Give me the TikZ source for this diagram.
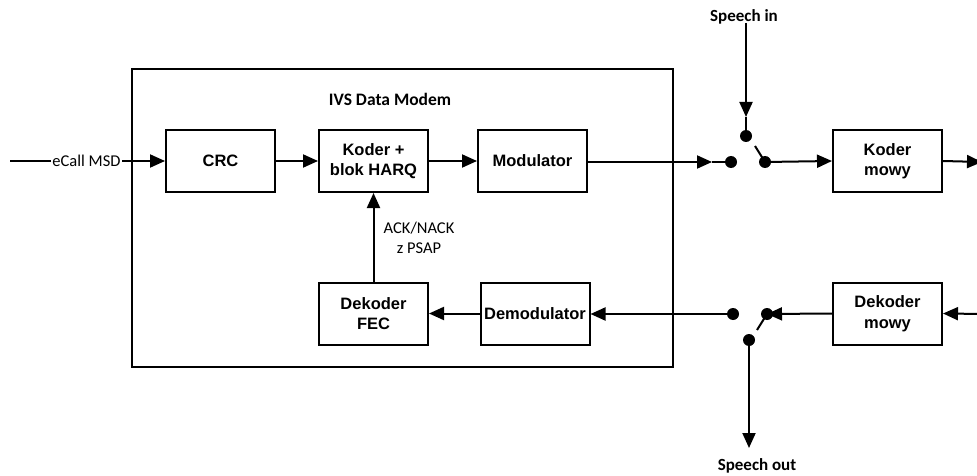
\documentclass[tikz,border=0pt]{standalone}
\usepackage{fontspec}
\setmainfont{Liberation Sans}
\newfontfamily\calibri{Carlito}
\usetikzlibrary{arrows.meta,positioning}
\begin{document}
\begin{tikzpicture}[x=1pt,y=-1pt,
  line width=2pt,
  blk/.style={draw, line width=2pt, minimum width=109pt, minimum height=62pt,
    inner sep=0pt, align=center, font=\fontsize{16.5}{20.5}\selectfont\bfseries},
  lbl/.style={font=\calibri\fontsize{16.5}{19.5}\selectfont, align=center, inner sep=0pt},
  lblb/.style={font=\calibri\fontsize{17}{20}\selectfont\bfseries, align=center, inner sep=0pt},
  sig/.style={-{Triangle[length=15pt,width=13pt]}},
  dot/.style={circle, fill=black, inner sep=0pt, minimum size=12pt}
]
\useasboundingbox (0,0) rectangle (977,476);

% modem enclosure
\node[draw, line width=2pt, minimum width=541pt, minimum height=298pt, inner sep=0pt]
  (modem) at (402.5,218) {};
\node[lblb, font=\calibri\fontsize{17.5}{20}\selectfont\bfseries] (title) at (390,99) {IVS Data Modem};

% transmit chain
\node[blk] (crc) at (220.5,161) {CRC};
\node[blk] (harq) at (373.5,161) {Koder +\\blok HARQ};
\node[blk] (mod) at (532.5,161) {Modulator};
\node[blk] (kmowy) at (887.5,161) {Koder\\mowy};

% receive chain
\node[blk] (fec) at (373.5,313.5) {Dekoder\\FEC};
\node[blk] (demod) at (535,313.5) {Demodulator};
\node[blk] (dmowy) at (887.5,313.5) {Dekoder\\mowy};

% input message
\coordinate (msdin) at (10,161);
\node[lbl, fill=white, inner sep=0.5pt] (msd) at (86.5,161) {eCall MSD};
\draw (msdin) -- (msd.west);
\draw[sig] (msd.east) -- (crc.west);
\draw[sig] (crc.east) -- (harq.west);
\draw[sig] (harq.east) -- (mod.west);

% feedback from the decoder
\draw[sig] (fec.north) -- (harq.south);
\node[lbl] (ack) at (419,238) {ACK/NACK\\z PSAP};

% uplink switch
\node[dot] (ua) at (731,162) {};
\node[dot] (ub) at (765,162) {};
\node[dot] (uc) at (746,136) {};
\coordinate (uarr) at (712,162);
\coordinate (ulev) at (755,146);
\draw[sig] (mod.east |- uarr) -- (uarr);
\draw (uarr) -- (ua.center);
\draw (ulev) -- (ub.center);
\draw[sig] (ub.center) -- (kmowy.west);
\coordinate (kout) at (982,162);
\draw[sig] (kmowy.east) -- (kout);

\node[lblb] (spin) at (744,17) {Speech in};
\coordinate (sptop) at (746,23);
\coordinate (sparr) at (746,117);
\draw[sig] (sptop) -- (sparr);
\draw (sparr) -- (uc.center);

% downlink switch
\node[dot] (da) at (733,314) {};
\node[dot] (db) at (767,314) {};
\node[dot] (dc) at (749,340) {};
\coordinate (dlev) at (757,330);
\coordinate (din) at (985,314);
\draw[sig] (din) -- (dmowy.east);
\draw[sig] (dmowy.west) -- (db.center);
\draw (db.center) -- (dlev);
\draw[sig] (da.center) -- (demod.east |- da);

\coordinate (spbot) at (749,448);
\draw[sig] (dc.center) -- (spbot);
\node[lblb] (spout) at (757,466) {Speech out};

\draw[sig] (demod.west) -- (fec.east);
\end{tikzpicture}
\end{document}
